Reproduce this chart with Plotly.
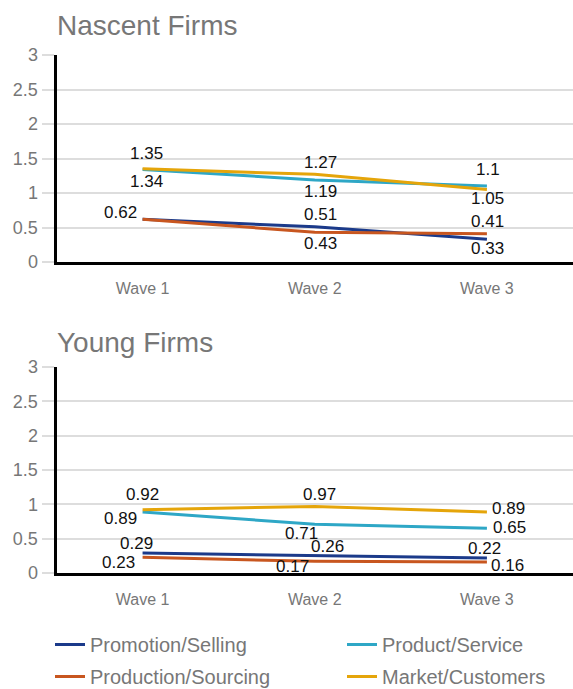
import plotly.graph_objects as go
from plotly.subplots import make_subplots

waves = ["Wave 1", "Wave 2", "Wave 3"]
series_names = ["Promotion/Selling", "Product/Service", "Production/Sourcing", "Market/Customers"]
series_colors = ["#1b3a8a", "#2ea7c6", "#c8561f", "#e5a50a"]
# left legend column: Promotion, Production; right column: Product, Market
series_legend = ["legend", "legend2", "legend", "legend2"]

# Nascent firms
nascent_promotion = [0.62, 0.51, 0.33]
nascent_product = [1.34, 1.19, 1.10]
nascent_production = [0.62, 0.43, 0.41]
nascent_market = [1.35, 1.27, 1.05]

# Young firms
young_promotion = [0.29, 0.26, 0.22]
young_product = [0.89, 0.71, 0.65]
young_production = [0.23, 0.17, 0.16]
young_market = [0.92, 0.97, 0.89]

y_ticks = [0, 0.5, 1, 1.5, 2, 2.5, 3]
y_tick_text = ["0", "0.5", "1", "1.5", "2", "2.5", "3"]

nascent = [nascent_promotion, nascent_product, nascent_production, nascent_market]
young = [young_promotion, young_product, young_production, young_market]

# value-label offsets (dx, dy) in pixels from each point, dy measured downward
nascent_offsets = [
    [(-22, -7), (6, -12), (1, 9)],
    [(4, 12), (6, 12), (1, -17)],
    [(-22, -7), (6, 11), (1, -12)],
    [(4, -15), (6, -12), (1, 9)],
]
young_offsets = [
    [(-6, -10), (13, -9), (-2, -9)],
    [(-22, 7), (-13, 9), (23, -1)],
    [(-24, 5), (-22, 5), (21, 3)],
    [(0, -15), (5, -12), (22, -3)],
]

fig = make_subplots(rows=2, cols=1)
label_annotations = []

panels = [(nascent, nascent_offsets, "x", "y"), (young, young_offsets, "x2", "y2")]
for panel, (data, offsets, xref, yref) in enumerate(panels, start=1):
    for i, vals in enumerate(data):
        fig.add_trace(
            go.Scatter(
                x=waves,
                y=vals,
                mode="lines",
                line=dict(color=series_colors[i], width=3),
                name=series_names[i],
                legend=series_legend[i],
                legendgroup=series_names[i],
                showlegend=(panel == 1),
                hovertemplate="%{y}<extra>" + series_names[i] + "</extra>",
            ),
            row=panel,
            col=1,
        )
        for j, v in enumerate(vals):
            # a value shared with an earlier series at the same wave is labelled once
            if any(other[j] == v for other in data[:i]):
                continue
            dx, dy = offsets[i][j]
            label_annotations.append(dict(
                x=waves[j], y=v, xref=xref, yref=yref, text=f"{v:g}",
                showarrow=False, xanchor="center", yanchor="middle",
                xshift=dx, yshift=-dy,
                font=dict(size=17, color="#111111"),
            ))

H = 689.0
W = 573.0
x0 = 56.5 / W
legend_font = dict(size=20, color="#777777")
fig.update_layout(
    width=573,
    height=689,
    margin=dict(l=0, r=0, t=0, b=0, autoexpand=False),
    paper_bgcolor="white",
    plot_bgcolor="white",
    font=dict(family="Liberation Sans, Arial, sans-serif", color="#777777"),
    xaxis=dict(domain=[x0, 1]),
    xaxis2=dict(domain=[x0, 1]),
    yaxis=dict(domain=[1 - 262 / H, 1 - 55 / H]),
    yaxis2=dict(domain=[1 - 573 / H, 1 - 367 / H]),
    legend=dict(
        orientation="v", x=50 / W, xanchor="left", y=1 - 625 / H, yanchor="top",
        font=legend_font, tracegroupgap=3, itemwidth=30,
    ),
    legend2=dict(
        orientation="v", x=342 / W, xanchor="left", y=1 - 625 / H, yanchor="top",
        font=legend_font, tracegroupgap=3, itemwidth=30,
    ),
    annotations=[
        dict(text="Nascent Firms", x=55 / W, xref="paper", xanchor="left", y=1 - 25 / H,
             yref="paper", yanchor="middle", showarrow=False,
             font=dict(size=28, color="#777777")),
        dict(text="Young Firms", x=55 / W, xref="paper", xanchor="left", y=1 - 342 / H,
             yref="paper", yanchor="middle", showarrow=False,
             font=dict(size=28, color="#777777")),
    ] + label_annotations,
)

fig.update_xaxes(
    showline=True, linecolor="black", linewidth=3,
    showgrid=False, ticks="outside", ticklen=10, tickcolor="rgba(0,0,0,0)",
    tickfont=dict(size=16, color="#777777"), range=[-0.5, 2.5], zeroline=False,
)
fig.update_yaxes(
    range=[0, 3], tickvals=y_ticks, ticktext=y_tick_text,
    showline=True, linecolor="black", linewidth=3,
    showgrid=True, gridcolor="#dddddd", gridwidth=1.5,
    ticks="outside", ticklen=12, tickcolor="#dddddd", tickwidth=1.5,
    tickfont=dict(size=18, color="#777777"), zeroline=False,
)

fig.write_html("out.html")
